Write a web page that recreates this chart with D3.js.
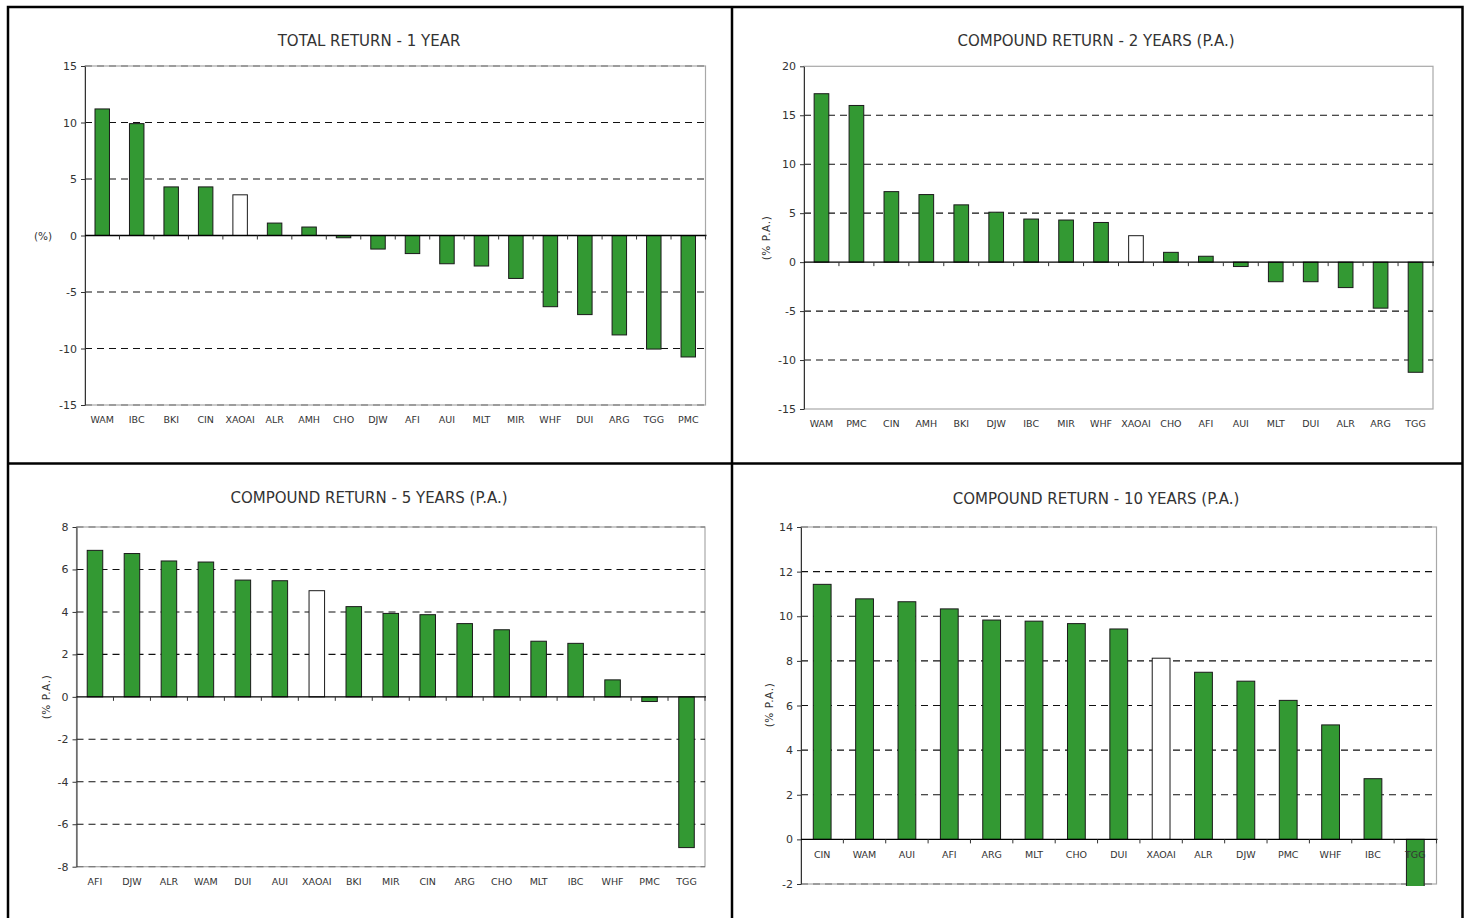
<!DOCTYPE html>
<html>
<head>
<meta charset="utf-8">
<script src="https://cdn.jsdelivr.net/npm/d3@7"></script>
<style>
body { margin: 0; background: #fff; }
svg { display: block; }
text { font-family: "DejaVu Sans", Verdana, sans-serif; fill: #333; }
</style>
</head>
<body>
<svg id="chart" width="1470" height="918"></svg>
<script>
// ---- data
var names1y = ["WAM","IBC","BKI","CIN","XAOAI","ALR","AMH","CHO","DJW","AFI","AUI","MLT","MIR","WHF","DUI","ARG","TGG","PMC"];
var returns1y = [11.2, 9.9, 4.3, 4.3, 3.6, 1.1, 0.75, -0.2, -1.2, -1.6, -2.5, -2.7, -3.8, -6.3, -7.0, -8.8, -10.05, -10.75];
var ticks1y = [-15, -10, -5, 0, 5, 10, 15];

var names2y = ["WAM","PMC","CIN","AMH","BKI","DJW","IBC","MIR","WHF","XAOAI","CHO","AFI","AUI","MLT","DUI","ALR","ARG","TGG"];
var returns2y = [17.2, 16.0, 7.2, 6.9, 5.85, 5.1, 4.4, 4.3, 4.05, 2.7, 1.0, 0.6, -0.45, -2.0, -2.0, -2.6, -4.7, -11.25];
var ticks2y = [-15, -10, -5, 0, 5, 10, 15, 20];

var names5y = ["AFI","DJW","ALR","WAM","DUI","AUI","XAOAI","BKI","MIR","CIN","ARG","CHO","MLT","IBC","WHF","PMC","TGG"];
var returns5y = [6.9, 6.75, 6.4, 6.35, 5.5, 5.47, 5.0, 4.25, 3.93, 3.87, 3.45, 3.16, 2.62, 2.52, 0.8, -0.22, -7.1];
var ticks5y = [-8, -6, -4, -2, 0, 2, 4, 6, 8];

var names10y = ["CIN","WAM","AUI","AFI","ARG","MLT","CHO","DUI","XAOAI","ALR","DJW","PMC","WHF","IBC","TGG"];
var returns10y = [11.43, 10.78, 10.65, 10.33, 9.83, 9.78, 9.67, 9.43, 8.12, 7.49, 7.09, 6.23, 5.13, 2.72, -2.6];
var ticks10y = [-2, 0, 2, 4, 6, 8, 10, 12, 14];

var BENCHMARK = "XAOAI";

// ---- layout of each panel (plot area box, title and axis title spots)
var panels = [
    {title: "TOTAL RETURN - 1 YEAR", names: names1y, vals: returns1y, ticks: ticks1y,
     box: {l: 85, r: 705.5, t: 66, b: 405}, tx: 369, ty: 41,
     yTitle: "(%)", yRot: false, ytx: 43, yty: 236, labelsAtZero: false, edgeGrid: true},
    {title: "COMPOUND RETURN - 2 YEARS (P.A.)", names: names2y, vals: returns2y, ticks: ticks2y,
     box: {l: 804, r: 1433, t: 66.3, b: 409}, tx: 1096, ty: 41,
     yTitle: "(% P.A.)", yRot: true, ytx: 766, yty: 238, labelsAtZero: false, edgeGrid: false},
    {title: "COMPOUND RETURN - 5 YEARS (P.A.)", names: names5y, vals: returns5y, ticks: ticks5y,
     box: {l: 76.5, r: 705, t: 527, b: 866.7}, tx: 369, ty: 498,
     yTitle: "(% P.A.)", yRot: true, ytx: 46, yty: 697, labelsAtZero: false, edgeGrid: true},
    {title: "COMPOUND RETURN - 10 YEARS (P.A.)", names: names10y, vals: returns10y, ticks: ticks10y,
     box: {l: 801, r: 1436.5, t: 527, b: 884}, tx: 1096, ty: 499,
     yTitle: "(% P.A.)", yRot: true, ytx: 769, yty: 705, labelsAtZero: true, edgeGrid: true}
];

var svg = d3.select("#chart");

// frames round the four panels
var frame = svg.append("g").attr("fill", "none").attr("stroke", "#000").attr("stroke-width", 2.5);
frame.append("rect").attr("x", 8).attr("y", 7).attr("width", 1454.5).attr("height", 930);
frame.append("line").attr("x1", 732).attr("x2", 732).attr("y1", 7).attr("y2", 930);
frame.append("line").attr("x1", 8).attr("x2", 1462.5).attr("y1", 463.5).attr("y2", 463.5);

panels.forEach(function (p, pi) {
    var b = p.box;
    var g = svg.append("g");

    var x = d3.scaleBand().domain(p.names).range([b.l, b.r])
        .paddingInner(0.58).paddingOuter(0.29);
    var y = d3.scaleLinear().domain(d3.extent(p.ticks)).range([b.b, b.t]);

    // plot area border
    g.append("rect").attr("x", b.l).attr("y", b.t)
        .attr("width", b.r - b.l).attr("height", b.b - b.t)
        .attr("fill", "none").attr("stroke", "#a8a8a8").attr("stroke-width", 1.2);

    // dashed gridlines
    var gridTicks = p.ticks.filter(function (t) {
        if (t === 0) return false;
        if (!p.edgeGrid && (t === y.domain()[0] || t === y.domain()[1])) return false;
        return true;
    });
    g.selectAll(".grid").data(gridTicks).enter().append("line")
        .attr("x1", b.l).attr("x2", b.r)
        .attr("y1", function (d) { return y(d); }).attr("y2", function (d) { return y(d); })
        .attr("stroke", function (d) { return (d === y.domain()[0] || d === y.domain()[1]) ? "#6e6e6e" : "#111"; })
        .attr("stroke-width", 1.1)
        .attr("stroke-dasharray", "7,5");

    // bars
    var clipId = "clip" + pi;
    g.append("clipPath").attr("id", clipId).append("rect")
        .attr("x", b.l).attr("y", b.t - 1).attr("width", b.r - b.l).attr("height", b.b - b.t + 3);
    g.append("g").attr("clip-path", "url(#" + clipId + ")")
        .selectAll("rect").data(p.names).enter().append("rect")
        .attr("x", function (d) { return x(d); })
        .attr("width", x.bandwidth())
        .attr("y", function (d, i) { return y(Math.max(0, p.vals[i])); })
        .attr("height", function (d, i) { return Math.abs(y(p.vals[i]) - y(0)); })
        .attr("fill", function (d) { return d === BENCHMARK ? "#fff" : "#339933"; })
        .attr("stroke", "#1a1a1a").attr("stroke-width", 1);

    // y axis, plain hyphen for negatives like the original
    var yAxis = g.append("g").attr("transform", "translate(" + b.l + ",0)")
        .call(d3.axisLeft(y).tickValues(p.ticks).tickSize(4).tickSizeOuter(0).tickPadding(4)
            .tickFormat(function (d) { return String(d); }));
    yAxis.select(".domain").attr("stroke", "#333");
    yAxis.selectAll(".tick line").attr("stroke", "#333");
    yAxis.selectAll("text").style("font-size", "11px").attr("fill", "#333");

    // zero line with category dividers
    var step = x.step();
    g.append("line").attr("x1", b.l).attr("x2", b.r + 1)
        .attr("y1", y(0)).attr("y2", y(0))
        .attr("stroke", "#000").attr("stroke-width", 1.4);
    g.selectAll(".xtick").data(d3.range(1, p.names.length + 1)).enter().append("line")
        .attr("x1", function (i) { return b.l + i * step; })
        .attr("x2", function (i) { return b.l + i * step; })
        .attr("y1", y(0)).attr("y2", y(0) + 4)
        .attr("stroke", "#333").attr("stroke-width", 1);

    // category labels
    var labY = p.labelsAtZero ? y(0) + 15.5 : b.b + 15;
    g.selectAll(".lab").data(p.names).enter().append("text")
        .attr("x", function (d) { return x(d) + x.bandwidth() / 2; })
        .attr("y", labY).attr("dy", "0.35em")
        .attr("text-anchor", "middle")
        .style("font-size", "9.5px")
        .text(function (d) { return d; });

    // titles
    g.append("text").attr("x", p.tx).attr("y", p.ty).attr("dy", "0.35em")
        .attr("text-anchor", "middle").style("font-size", "15px").attr("fill", "#111")
        .text(p.title);
    var yt = g.append("text").attr("text-anchor", "middle").attr("dy", "0.35em")
        .style("font-size", "10.5px").text(p.yTitle);
    if (p.yRot) {
        yt.attr("transform", "translate(" + p.ytx + "," + p.yty + ") rotate(-90)")
            .style("letter-spacing", "0.6px");
    } else {
        yt.attr("x", p.ytx).attr("y", p.yty);
    }
});
</script>
</body>
</html>
